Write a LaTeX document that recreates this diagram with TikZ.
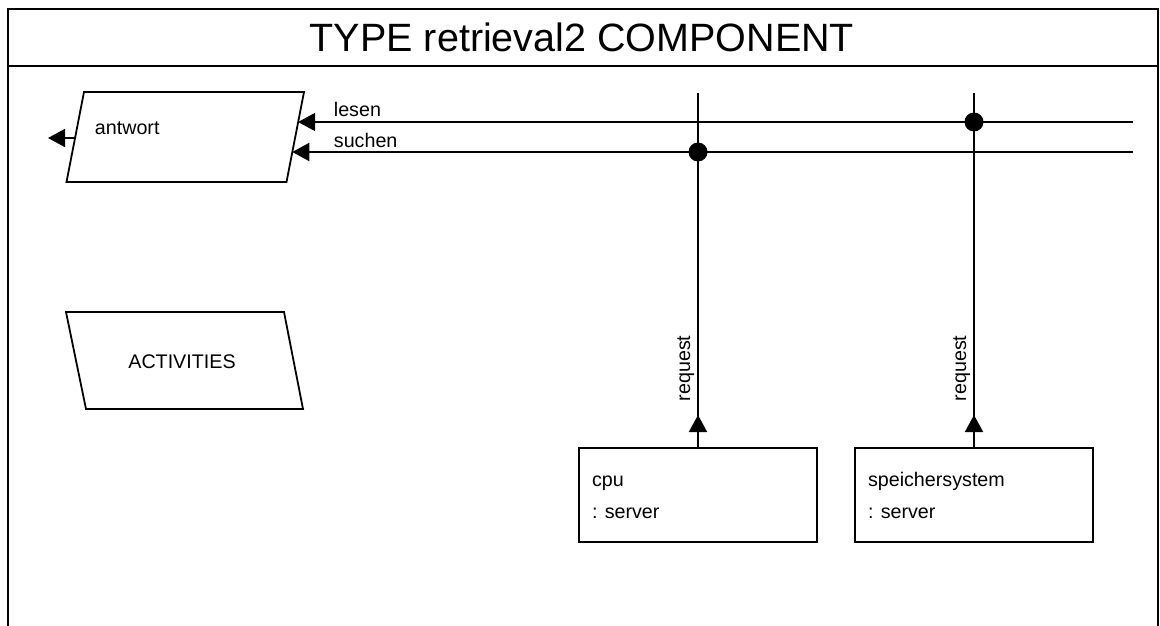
\documentclass[tikz,border=0pt]{standalone}
\usepackage{fontspec}
\setmainfont{Liberation Sans}
\usetikzlibrary{arrows.meta}
\begin{document}
\begin{tikzpicture}[x=1pt,y=-1pt, line width=1.8pt,
  lbl/.style={font=\fontsize{19.7}{24}\selectfont, inner sep=0pt},
  tip/.style={-{Triangle[length=17pt,width=18pt]}},
  dot/.style={circle, fill=black, draw=none, inner sep=0pt, minimum size=19pt},
  srv/.style={draw, minimum width=238pt, minimum height=94pt, inner sep=0pt}]
\useasboundingbox (0,0) rectangle (1160,626);
\clip (0,0) rectangle (1160,626);
% frame
\draw[line width=2pt] (8,640) -- (8,9) -- (1158,9) -- (1158,640);
\draw[line width=2pt] (8,66) -- (1158,66);
\node[font=\fontsize{39.5}{45}\selectfont, anchor=base, inner sep=0pt] (title) at (582,52) {TYPE retrieval2 COMPONENT};
% antwort
\draw (84,92) -- (304,92) -- (286.5,182) -- (66.5,182) -- cycle;
\node[lbl, anchor=base west] (antwort) at (94,135) {antwort};
\coordinate (awLesen) at (298.1,122);
\coordinate (awSuchen) at (292.3,152);
\coordinate (awOut) at (75.1,138);
\coordinate (outTip) at (48,138);
\draw[tip] (awOut) -- (outTip);
% activities
\draw (66,312) -- (284,312) -- (303,409) -- (86,409) -- cycle;
\node[lbl] (act) at (182,362) {ACTIVITIES};
% channels
\coordinate (lesenR) at (1133,122);
\coordinate (suchenR) at (1133,152);
\draw[tip] (lesenR) -- (awLesen);
\draw[tip] (suchenR) -- (awSuchen);
\node[lbl, anchor=base west] (lesen) at (333,116) {lesen};
\node[lbl, anchor=base west] (suchen) at (333,147) {suchen};
% servers
\node[srv] (cpu) at (698,495) {};
\node[srv] (mem) at (974,495) {};
\node[lbl, anchor=base west] (cpuName) at ([xshift=13pt,yshift=-39pt]cpu.north west) {cpu};
\node[lbl, anchor=base west] (cpuType) at ([xshift=13pt,yshift=-71pt]cpu.north west) {: server};
\node[lbl, anchor=base west] (memName) at ([xshift=13pt,yshift=-39pt]mem.north west) {speichersystem};
\node[lbl, anchor=base west] (memType) at ([xshift=13pt,yshift=-71pt]mem.north west) {: server};
\coordinate (cpuTop) at (698,93);
\coordinate (memTop) at (974,93);
\coordinate (cpuTip) at (698,415);
\coordinate (memTip) at (974,415);
\draw (cpu.north) -- (cpuTop);
\draw (mem.north) -- (memTop);
\draw[tip] (cpu.north) -- (cpuTip);
\draw[tip] (mem.north) -- (memTip);
\node[lbl, rotate=90, anchor=base] (req1) at (690,368.5) {request};
\node[lbl, rotate=90, anchor=base] (req2) at (966,368.5) {request};
% junction dots
\node[dot] (j1) at (698,152) {};
\node[dot] (j2) at (974,122) {};
\end{tikzpicture}
\end{document}
